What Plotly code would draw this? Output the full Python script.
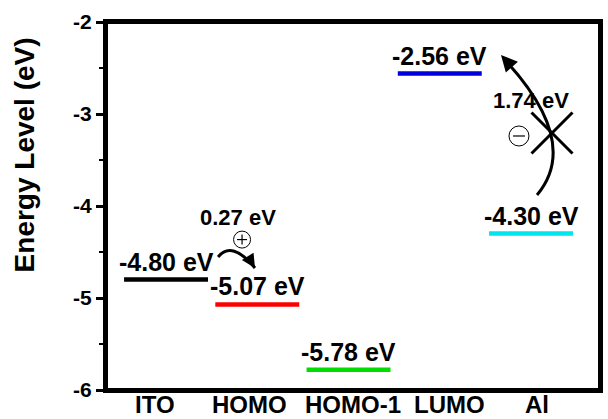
import plotly.graph_objects as go

# Data
level_names = ["ITO", "HOMO", "HOMO-1", "LUMO", "Al"]
level_pos = [1, 2, 3, 4, 5]
level_values = [-4.80, -5.07, -5.78, -2.56, -4.30]
level_colors = ["#000000", "#ff0000", "#00dd00", "#0000dd", "#00e5ee"]
level_labels = ["-4.80 eV", "-5.07 eV", "-5.78 eV", "-2.56 eV", "-4.30 eV"]
tick_pos = [0.88, 1.92, 3.05, 4.11, 5.07]
ytick_vals = [-6, -5, -4, -3, -2]
half_w = 0.46

FONT = "Liberation Sans, Arial, sans-serif"

fig = go.Figure()
for p, v, c in zip(level_pos, level_values, level_colors):
    fig.add_trace(go.Scatter(x=[p - half_w, p + half_w], y=[v, v], mode="lines",
                             line=dict(color=c, width=4.5), showlegend=False,
                             hoverinfo="skip"))

annotations = []
for p, v, t in zip(level_pos, level_values, level_labels):
    annotations.append(dict(x=p, y=v, text="<b>%s</b>" % t, showarrow=False,
                            yanchor="bottom", yshift=2,
                            font=dict(family=FONT, size=25, color="black")))

# category labels under the axis
for p, n in zip(tick_pos, level_names):
    annotations.append(dict(x=p, xref="x", y=0, yref="paper", text="<b>%s</b>" % n,
                            showarrow=False, yanchor="top", yshift=1,
                            font=dict(family=FONT, size=24, color="black")))

shapes = []


def px_line(xa, ya, x0, x1, y0, y1, w):
    return dict(type="line", xref="x", yref="y", xsizemode="pixel", ysizemode="pixel",
                xanchor=xa, yanchor=ya, x0=x0, x1=x1, y0=y0, y1=y1,
                line=dict(color="black", width=w))


def px_circle(xa, ya, r):
    return dict(type="circle", xref="x", yref="y", xsizemode="pixel", ysizemode="pixel",
                xanchor=xa, yanchor=ya, x0=-r, x1=r, y0=-r, y1=r,
                line=dict(color="black", width=1))


# ITO -> HOMO hole injection arrow
s = (1.570, -4.554); c = (1.723, -4.370); e = (1.975, -4.674)
shapes.append(dict(type="path", xref="x", yref="y",
                   path="M %f,%f Q %f,%f %f,%f" % (s[0], s[1], c[0], c[1], e[0], e[1]),
                   line=dict(color="black", width=3)))
annotations.append(dict(x=e[0], y=e[1], ax=-5, ay=-8, showarrow=True, text="",
                        arrowhead=2, arrowsize=1.1, arrowwidth=2.5, arrowcolor="black",
                        standoff=0))
annotations.append(dict(x=1.789, y=-4.125, text="<b>0.27 eV</b>", showarrow=False,
                        font=dict(family=FONT, size=22, color="black")))
# circle plus
cp = (1.833, -4.365)
shapes.append(px_circle(cp[0], cp[1], 8.5))
shapes.append(px_line(cp[0], cp[1], -5, 5, 0, 0, 1.2))
shapes.append(px_line(cp[0], cp[1], 0, 0, -5, 5, 1.2))

# Al -> LUMO blocked electron arrow
s2 = (5.066, -3.880); c2 = (5.548, -3.310); e2 = (4.715, -2.413)
shapes.append(dict(type="path", xref="x", yref="y",
                   path="M %f,%f Q %f,%f %f,%f" % (s2[0], s2[1], c2[0], c2[1], e2[0], e2[1]),
                   line=dict(color="black", width=3)))
annotations.append(dict(x=4.671, y=-2.359, ax=9, ay=10, showarrow=True, text="",
                        arrowhead=2, arrowsize=1.3, arrowwidth=2.5, arrowcolor="black",
                        standoff=0))
annotations.append(dict(x=5.0, y=-2.848, text="<b>1.74 eV</b>", showarrow=False,
                        font=dict(family=FONT, size=22, color="black")))
# X cross
xc = (5.230, -3.207)
shapes.append(px_line(xc[0], xc[1], -20.5, 20.5, 20.5, -20.5, 3))
shapes.append(px_line(xc[0], xc[1], -20.5, 20.5, -20.5, 20.5, 3))
# circle minus
cm = (4.868, -3.239)
shapes.append(px_circle(cm[0], cm[1], 10))
shapes.append(px_line(cm[0], cm[1], -6, 6, 0, 0, 1.2))

# y-axis title
annotations.append(dict(xref="paper", x=0, xshift=-82, xanchor="center", y=-3.45, yref="y",
                        text="<b>Energy Level (eV)</b>", textangle=-90, showarrow=False,
                        font=dict(family=FONT, size=28, color="black")))

# plot frame (drawn explicitly on top)
shapes.append(dict(type="rect", xref="paper", yref="paper", x0=0, x1=1, y0=0, y1=1,
                   line=dict(color="black", width=4), layer="above"))

fig.update_layout(
    width=608, height=419,
    margin=dict(l=106, r=8, t=22, b=29, autoexpand=False),
    paper_bgcolor="white", plot_bgcolor="white",
    shapes=shapes, annotations=annotations,
    xaxis=dict(range=[0.342, 5.756], automargin=False, showticklabels=False,
               showgrid=False, zeroline=False, showline=True, mirror=True,
               linecolor="black", linewidth=3, ticks=""),
    yaxis=dict(range=[-6, -2], tickvals=ytick_vals, automargin=False,
               ticktext=["<b>%d</b>" % v for v in ytick_vals],
               showgrid=False, zeroline=False, showline=True, mirror=True,
               linecolor="black", linewidth=3,
               ticks="outside", ticklen=7, tickwidth=3, tickcolor="black",
               minor=dict(dtick=0.5, ticks="outside", ticklen=4, tickwidth=2, tickcolor="black"),
               tickfont=dict(family=FONT, size=21, color="black")),
)
fig.write_html("out.html", config={"displayModeBar": False},
               post_script="document.body.style.margin='0';")
